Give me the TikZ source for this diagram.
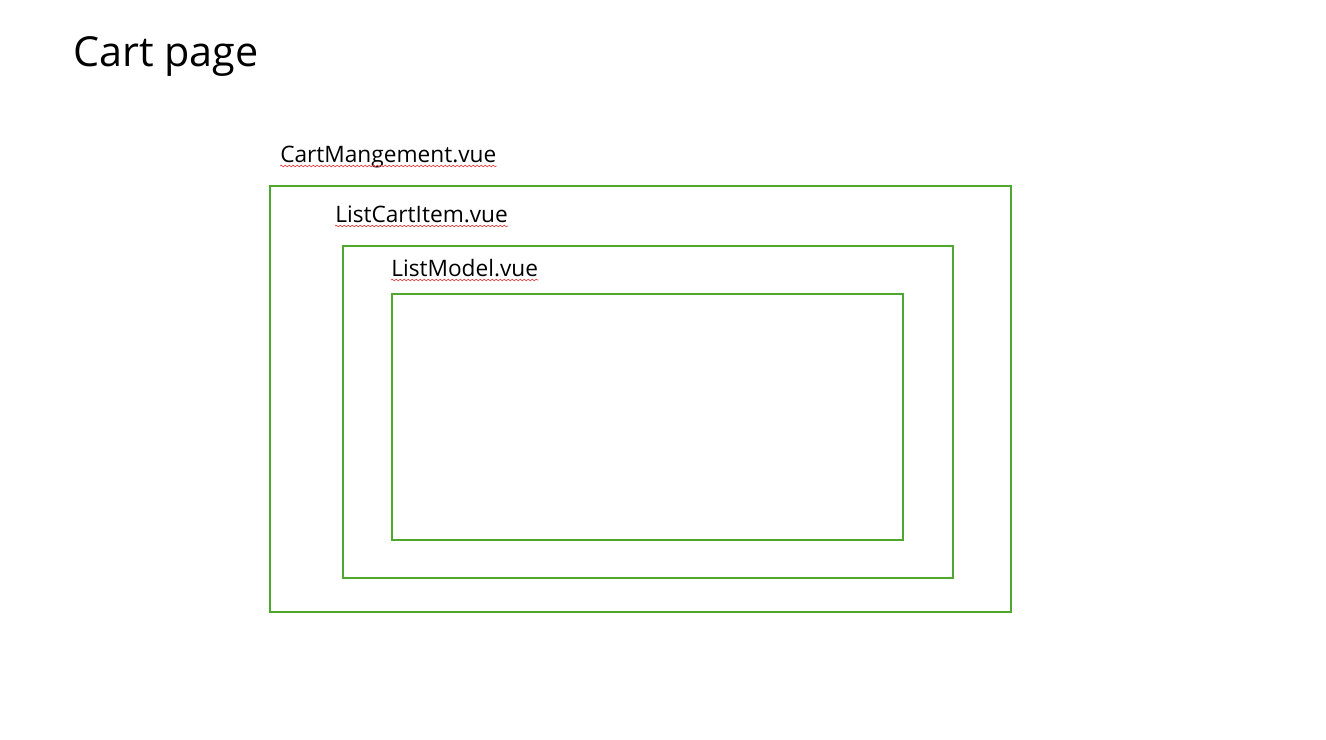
\documentclass[tikz,border=0pt]{standalone}
\usepackage{fontspec}
\setmainfont{Open Sans}
\usetikzlibrary{decorations.pathmorphing}
\definecolor{boxgreen}{HTML}{4EA72E}
\definecolor{squig}{HTML}{E84040}
\begin{document}
\begin{tikzpicture}[x=0.75pt,y=-0.75pt,
  frame/.style={draw=boxgreen,line width=1.5pt},
  lbl/.style={anchor=base west,inner sep=0pt,font=\fontsize{17}{20}\selectfont},
  ttl/.style={anchor=base west,inner sep=0pt,font=\fontsize{31}{36}\selectfont},
  squiggle/.style={draw=squig,line width=0.5pt,decorate,decoration={snake,amplitude=0.6pt,segment length=3pt}}]
\useasboundingbox (0,0) rectangle (1326,739);
\node[ttl] (title) at (73,66) {Cart page};
\draw[frame] (270,186) rectangle (1011,612);
\draw[frame] (343,246) rectangle (953,578);
\draw[frame] (392,294) rectangle (903,540);
\node[lbl] (l1) at (280,162) {CartMangement.vue};
\node[lbl] (l2) at (335,222) {ListCartItem.vue};
\node[lbl] (l3) at (391,276) {ListModel.vue};
\foreach \n in {l1,l2,l3}{
  \draw[squiggle] ([yshift=-3pt]\n.base west) -- ([yshift=-3pt]\n.base east);
}
\end{tikzpicture}
\end{document}
